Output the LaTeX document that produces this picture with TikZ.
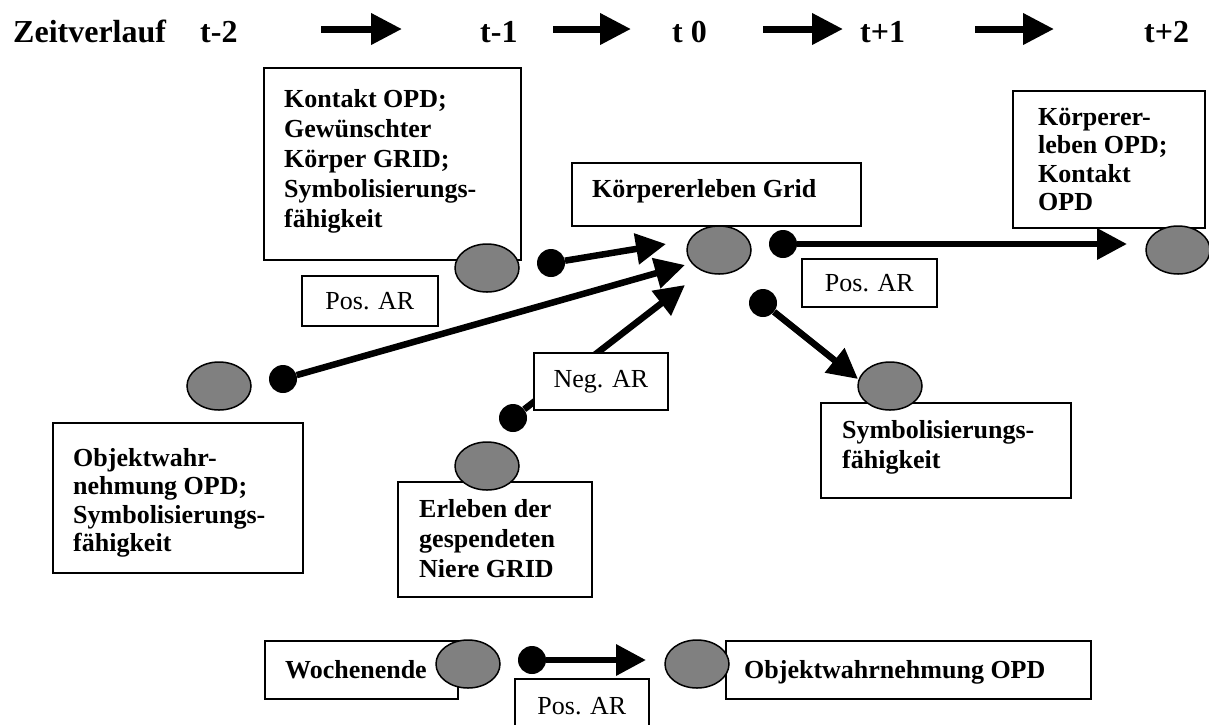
\documentclass[tikz,border=0pt]{standalone}
\usepackage{fontspec}
\setmainfont{Liberation Serif}
\usetikzlibrary{arrows.meta,shapes.geometric}
\definecolor{blobgray}{HTML}{808080}
\newcommand\firstline{\rule{0pt}{20pt}}
\begin{document}
\begin{tikzpicture}[x=1pt,y=-1pt,
  frame/.style={draw,line width=1.8pt,fill=white,inner sep=0pt,anchor=north west},
  lbl/.style={inner sep=0pt,anchor=north west,align=left,font=\bfseries\fontsize{26}{30}\selectfont},
  tight/.style={font=\bfseries\fontsize{26}{28.5}\selectfont},
  arlbl/.style={font=\fontsize{26}{30}\selectfont},
  hdr/.style={font=\bfseries\fontsize{32}{38}\selectfont,anchor=base west,inner sep=0pt},
  blob/.style={ellipse,draw,line width=1.5pt,fill=blobgray,minimum width=64pt,minimum height=48pt,inner sep=0pt},
  knob/.style={circle,fill=black,minimum size=28pt,inner sep=0pt},
  link/.style={line width=6.5pt,-{Triangle[length=30pt,width=30pt]}},
  tick/.style={line width=7pt,-{Triangle[length=31pt,width=30pt]}}
]
\useasboundingbox (0,0) rectangle (1209,724);

% time line
\node[hdr] (zeit) at (13,42) {Zeitverlauf};
\node[hdr] (tm2) at (200,42) {t-2};
\node[hdr] (tm1) at (480,42) {t-1};
\node[hdr] (t0) at (672,42) {t 0};
\node[hdr] (tp1) at (860,42) {t+1};
\node[hdr] (tp2) at (1144,42) {t+2};
\coordinate (h1a) at (321,29); \coordinate (h1b) at (402,29);
\coordinate (h2a) at (553,29); \coordinate (h2b) at (631,29);
\coordinate (h3a) at (763,29); \coordinate (h3b) at (843,29);
\coordinate (h4a) at (975,29); \coordinate (h4b) at (1054,29);
\draw[tick] (h1a) -- (h1b);
\draw[tick] (h2a) -- (h2b);
\draw[tick] (h3a) -- (h3b);
\draw[tick] (h4a) -- (h4b);

% boxes
\node[frame,minimum width=257pt,minimum height=192pt] (bxA) at (263,67) {};
\node[lbl] (txA) at (284,87) {\firstline Kontakt OPD;\\Gewünschter\\Körper GRID;\\Symbolisierungs-\\fähigkeit};
\node[frame,minimum width=289pt,minimum height=63pt] (bxB) at (571,162) {};
\node[lbl] (txB) at (592,177) {\firstline Körpererleben Grid};
\node[frame,minimum width=192pt,minimum height=137pt] (bxC) at (1012,90) {};
\node[lbl,tight] (txC) at (1038,105) {\firstline Körperer-\\leben OPD;\\Kontakt\\OPD};
\node[frame,minimum width=250pt,minimum height=95pt] (bxS) at (820,402) {};
\node[lbl] (txS) at (842,418) {\firstline Symbolisierungs-\\fähigkeit};
\node[frame,minimum width=250pt,minimum height=150pt] (bxO) at (52,422) {};
\node[lbl,tight] (txO) at (73,446) {\firstline Objektwahr-\\nehmung OPD;\\Symbolisierungs-\\fähigkeit};
\node[frame,minimum width=194pt,minimum height=115pt] (bxE) at (397,481) {};
\node[lbl] (txE) at (419,497) {\firstline Erleben der\\gespendeten\\Niere GRID};
\node[frame,minimum width=193pt,minimum height=58pt] (bxW) at (264,640) {};
\node[lbl,anchor=base west] (txW) at (285,678) {Wochenende};
\node[frame,minimum width=365pt,minimum height=58pt] (bxV) at (725,640) {};
\node[lbl,anchor=base west] (txV) at (744,678) {Objektwahrnehmung OPD};
\node[frame,arlbl,minimum width=136pt,minimum height=50pt] (posL) at (301,275) {Pos. AR};
\node[frame,arlbl,minimum width=135pt,minimum height=48pt] (posR) at (801,258) {Pos. AR};
\node[frame,arlbl,minimum width=134pt,minimum height=54pt] (posB) at (514,678) {Pos. AR};

% start knobs and arrow ends
\node[knob] (k1) at (551,263) {};
\node[knob] (kL) at (283,379) {};
\node[knob] (kN) at (513,418) {};
\node[knob] (k2) at (783,244) {};
\node[knob] (k3) at (763,303) {};
\node[knob] (kW) at (532,660) {};
\coordinate (e1) at (666,244);
\coordinate (eL) at (685,265);
\coordinate (eN) at (685,285);
\coordinate (e2) at (1127,244);
\coordinate (e3) at (858,379);
\coordinate (eW) at (646,660);

\draw[link] (k1) -- (e1);
\draw[link] (kL) -- (eL);
\draw[link] (kN) -- (eN);
\draw[link] (k2) -- (e2);
\draw[link] (k3) -- (e3);
\draw[link] (kW) -- (eW);

\node[frame,arlbl,minimum width=134pt,minimum height=57pt] (negN) at (533,352) {Neg. AR};

% grey markers
\node[blob] (oA) at (487,268) {};
\node[blob] (oB) at (719,250) {};
\node[blob] (oC) at (1178,250) {};
\node[blob] (oL) at (219,386) {};
\node[blob] (oS) at (890,386) {};
\node[blob] (oE) at (487,466) {};
\node[blob] (oW) at (468,664) {};
\node[blob] (oV) at (697,664) {};
\end{tikzpicture}
\end{document}
